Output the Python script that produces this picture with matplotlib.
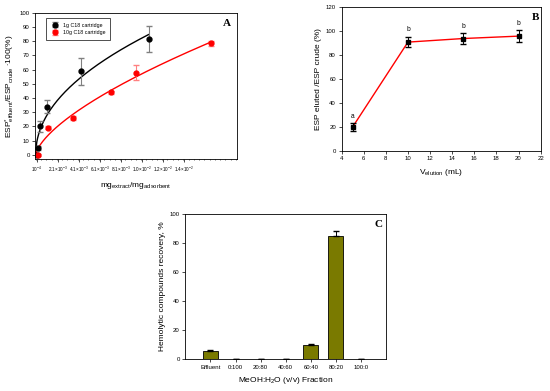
import numpy as np
import matplotlib
matplotlib.use("Agg")
import matplotlib.pyplot as plt
from matplotlib.ticker import MultipleLocator

plt.rcParams["font.family"] = ["Liberation Sans", "DejaVu Sans"]
plt.rcParams["mathtext.fontset"] = "custom"
plt.rcParams["mathtext.rm"] = "Liberation Sans"
plt.rcParams["mathtext.it"] = "Liberation Sans"

# panel A: breakthrough curves
a_x_1g = [0.0001, 0.0002, 0.00042, 0.00104, 0.0043, 0.0107]
a_y_1g = [0, 5, 20, 34, 59, 81.5]
a_e_1g = [0.5, 1.5, 4, 4.5, 9.5, 9]
a_x_10g = [0.00026, 0.0012, 0.00356, 0.0071, 0.0095, 0.0166]
a_y_10g = [0, 19, 26, 44, 58, 78.5]
a_e_10g = [0.5, 1, 1.5, 1, 5, 2]
a_ticks = [0.0001, 0.0021, 0.0041, 0.0061, 0.0081, 0.0101, 0.0121, 0.0141]
a_ticklabels = [r"10$^{-4}$", r"2.1×10$^{-3}$", r"4.1×10$^{-3}$", r"6.1×10$^{-3}$",
                r"8.1×10$^{-3}$", r"1.0×10$^{-2}$", r"1.2×10$^{-2}$", r"1.4×10$^{-2}$"]

# panel B: elution volume
b_vol = [5, 10, 15, 20]
b_rec = [20, 91, 94, 96]
b_err = [3, 4.5, 4.5, 5]
b_letters = ["a", "b", "b", "b"]

# panel C: fractions
c_frac = ["Effluent", "0:100", "20:80", "40:60", "60:40", "80:20", "100:0"]
c_rec = [6, 0, 0, 0, 10, 84.5, 0]
c_err = [0.3, 0, 0, 0, 0.4, 4, 0]

TICK = 4.3
LAB = 6

fig = plt.figure(figsize=(5.5, 3.91), dpi=100)


def power_fit(xs, ys, xmax):
    # y = a*x^b, least squares in y, exponent by grid search
    xs = np.array(xs)
    ys = np.array(ys, dtype=float)
    best = None
    for b in np.linspace(0.1, 1.2, 221):
        f = xs ** b
        a = (f @ ys) / (f @ f)
        err = ((a * f - ys) ** 2).sum()
        if best is None or err < best[0]:
            best = (err, a, b)
    _, a, b = best
    xx = np.linspace(0, xmax, 300)
    return xx, a * xx ** b


# ---- A
ax = fig.add_axes([0.064, 0.593, 0.367, 0.374])
xx, yy = power_fit(a_x_1g, a_y_1g, a_x_1g[-1])
ax.plot(xx, yy, color="black", lw=1)
xx, yy = power_fit(a_x_10g, a_y_10g, a_x_10g[-1])
ax.plot(xx, yy, color="red", lw=1)
ax.errorbar(a_x_1g, a_y_1g, yerr=a_e_1g, fmt="o", color="black", ms=3.5,
            ecolor="gray", elinewidth=0.8, capsize=2, label="1g C18 cartridge")
ax.errorbar(a_x_10g, a_y_10g, yerr=a_e_10g, fmt="o", color="red", ms=3.5,
            ecolor="#ff8080", elinewidth=0.8, capsize=2, label="10g C18 cartridge")
ax.set_xlim(-0.00005, 0.0191)
ax.set_ylim(-3, 100)
ax.set_xticks(a_ticks)
ax.set_xticklabels(a_ticklabels)
ax.xaxis.set_minor_locator(MultipleLocator(0.0005))
ax.yaxis.set_major_locator(MultipleLocator(10))
ax.set_xlabel(r"mg$_{extract}$/mg$_{adsorbent}$", fontsize=LAB)
ax.set_ylabel(r"ESP$^{*}_{effluent}$/ESP$_{crude}$ $\cdot$100(%)", fontsize=LAB, labelpad=2)
leg = ax.legend(loc="upper left", fontsize=3.8, frameon=True, fancybox=False,
                edgecolor="black", handletextpad=0.5, borderpad=0.8,
                bbox_to_anchor=(0.04, 0.98))
leg.get_frame().set_linewidth(0.6)
ax.text(0.95, 0.93, "A", transform=ax.transAxes, fontsize=8, fontweight="bold",
        family="Liberation Serif", ha="center", va="center")

# ---- B
ax = fig.add_axes([0.621, 0.614, 0.362, 0.367])
ax.plot(b_vol, b_rec, color="red", lw=1)
ax.errorbar(b_vol, b_rec, yerr=b_err, fmt="s", color="black", ms=3,
            elinewidth=0.7, capsize=2)
for v, r, e, s in zip(b_vol, b_rec, b_err, b_letters):
    ax.text(v, r + e + 3, s, ha="center", va="bottom", fontsize=4.8)
ax.set_xlim(4, 22)
ax.set_ylim(0, 120)
ax.xaxis.set_major_locator(MultipleLocator(2))
ax.yaxis.set_major_locator(MultipleLocator(20))
ax.set_xlabel(r"V$_{\mathrm{elution}}$ (mL)", fontsize=LAB)
ax.set_ylabel("ESP eluted /ESP crude (%)", fontsize=LAB, labelpad=3)
ax.text(0.975, 0.93, "B", transform=ax.transAxes, fontsize=8, fontweight="bold",
        family="Liberation Serif", ha="center", va="center")

# ---- C
ax = fig.add_axes([0.337, 0.081, 0.365, 0.372])
pos = np.arange(1, len(c_frac) + 1)
ax.bar(pos, c_rec, width=0.6, color="#7a7a00", edgecolor="black", linewidth=0.6)
ax.errorbar(pos, c_rec, yerr=[np.zeros(len(c_err)), c_err], fmt="none",
            ecolor="black", elinewidth=0.7, capsize=2)
ax.set_xlim(0, 8)
ax.set_ylim(0, 100)
ax.set_xticks(pos)
ax.set_xticklabels(c_frac)
ax.yaxis.set_major_locator(MultipleLocator(20))
ax.set_xlabel(r"MeOH:H$_2$O (v/v) Fraction", fontsize=LAB)
ax.set_ylabel("Hemolytic compounds recovery, %", fontsize=LAB, labelpad=3)
ax.text(0.96, 0.93, "C", transform=ax.transAxes, fontsize=8, fontweight="bold",
        family="Liberation Serif", ha="center", va="center")

for a in fig.axes:
    a.tick_params(labelsize=TICK, length=2, width=0.5, pad=2)
    a.tick_params(which="minor", length=1, width=0.4)
    for sp in a.spines.values():
        sp.set_linewidth(0.6)
fig.axes[0].tick_params(axis="x", labelsize=3.3)

fig.savefig("out.png", dpi=100)
plt.close(fig)
